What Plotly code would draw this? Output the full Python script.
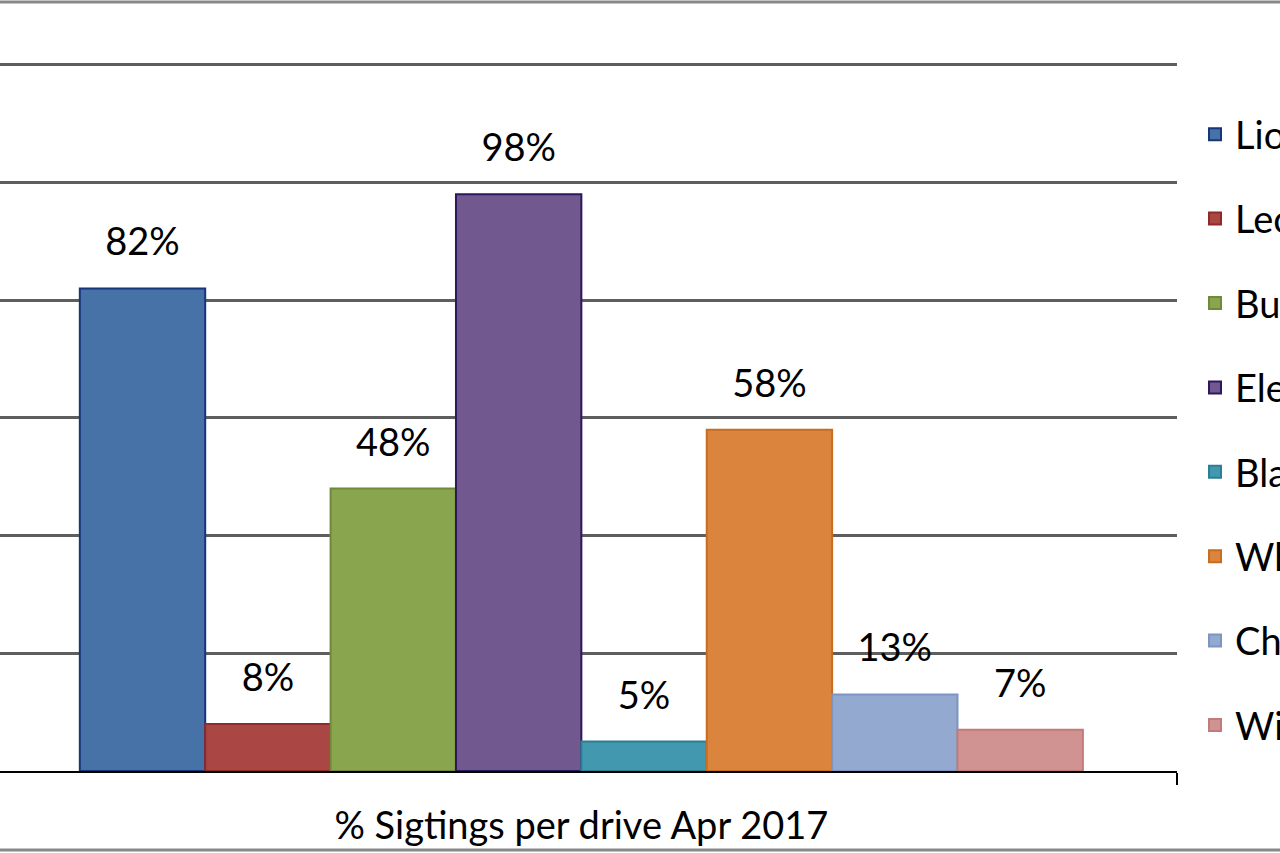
import plotly.graph_objects as go

category = ["% Sigtings per drive Apr 2017"]
animals = ["Lion", "Leopard", "Buffalo", "Elephant", "Black Rhino", "White Rhino", "Cheetah", "Wild dog"]
values = [82, 8, 48, 98, 5, 58, 13, 7]
fill_colors = ["#4672a7", "#aa4643", "#89a54e", "#71588f", "#4198af", "#db843d", "#93a9cf", "#d19392"]
line_colors = ["#17367a", "#8e2a27", "#71893c", "#2b195c", "#2d7e93", "#c86d20", "#7d95c0", "#c07b7a"]
y_ticks = [0, 20, 40, 60, 80, 100, 120]

FONT = "Lato, 'Open Sans', sans-serif"
FS = 38
W, H = 1280, 853
ML, MR, MT, MB = 0, 103, 63, 82

fig = go.Figure()
for name, v, fc, lc in zip(animals, values, fill_colors, line_colors):
    fig.add_trace(go.Bar(
        x=category, y=[v], name=name, legendgroup=name,
        marker=dict(color=fc, line=dict(color=lc, width=2)),
        hoverinfo="skip",
    ))
for name, v in zip(animals, values):
    fig.add_trace(go.Scatter(
        x=category, y=[v], mode="markers+text", text=[f"{v}%"],
        textposition="top center", showlegend=False, legendgroup=name,
        marker=dict(size=36, color="rgba(0,0,0,0)"),
        textfont=dict(family=FONT, size=FS, color="#000000"),
        cliponaxis=False, hoverinfo="skip",
    ))

plot_h = H - MT - MB
fig.update_layout(
    width=W, height=H,
    margin=dict(l=ML, r=MR, t=MT, b=MB, autoexpand=False),
    paper_bgcolor="white", plot_bgcolor="white",
    barmode="group", bargap=0.158, bargroupgap=0,
    scattermode="group", scattergap=0.158,
    font=dict(family=FONT, size=FS, color="#000000"),
    showlegend=True,
    legend=dict(
        x=1.0153, xanchor="left", y=(H - MB - 103) / plot_h, yanchor="top",
        font=dict(family=FONT, size=FS, color="#000000"),
        tracegroupgap=32, itemwidth=30, bgcolor="rgba(0,0,0,0)",
        traceorder="grouped",
    ),
    xaxis=dict(
        type="category", range=[-0.488, 0.5],
        showline=True, linecolor="#000000", linewidth=2,
        ticks="outside", tickson="boundaries", ticklen=12, tickwidth=2, tickcolor="#000000",
        tickfont=dict(family=FONT, size=FS, color="#000000"),
        ticklabelstandoff=20,
        showgrid=False, zeroline=False, fixedrange=True,
    ),
    yaxis=dict(
        range=[0, 120.3], tickvals=y_ticks, showticklabels=False,
        showgrid=True, gridcolor="#5e5e5e", gridwidth=2.5,
        zeroline=False, showline=False, fixedrange=True,
    ),
    shapes=[dict(
        type="rect", xref="paper", yref="paper",
        x0=-0.1, x1=1.3,
        y0=((H - MB) - 850) / plot_h, y1=((H - MB) - 2) / plot_h,
        line=dict(color="#888888", width=3), fillcolor="rgba(0,0,0,0)", layer="above",
    )],
)

fig.write_html("out.html", config={"displayModeBar": False},
               post_script="document.body.style.margin='0';")
